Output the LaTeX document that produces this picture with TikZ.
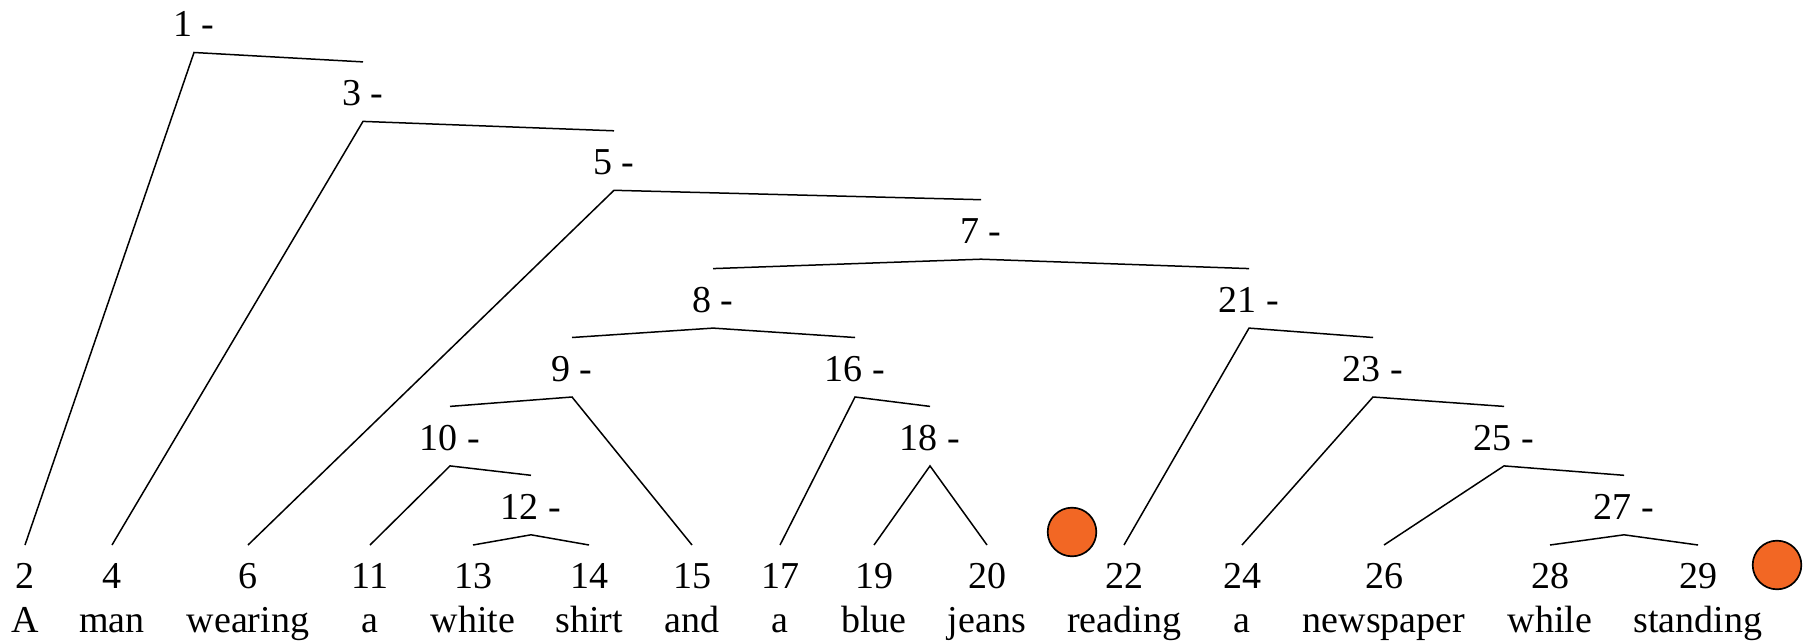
\documentclass[tikz,border=0pt]{standalone}
\usepackage{fontspec}
\setmainfont{Liberation Serif}
\usepackage{tikz}

\definecolor{dotorange}{RGB}{242,103,36}

\begin{document}
\begin{tikzpicture}[
      x=0.3pt, y=-0.3pt,
      every node/.style={font=\fontsize{11.4}{13}\selectfont, inner sep=0pt},
      headtext/.style={anchor=base},
      numtext/.style={anchor=base},
      wordtext/.style={anchor=base},
      branch/.style={draw=black, line width=0.45pt},
      orangedot/.style={circle, fill=dotorange, draw=black, line width=0.5pt, minimum size=14.6pt}
    ]
    \useasboundingbox (0,0) rectangle (1812,643);

    % Leaves: number, word and the top point of the branch
    \foreach \n/\x/\w in {2/25/A, 4/112/man, 6/248/wearing, 11/370/a, 13/473/white,
        14/589/shirt, 15/692/and, 17/780/a, 19/874/blue, 20/987/jeans, 22/1124/reading,
        24/1242/a, 26/1384/newspaper, 28/1550/while, 29/1698/standing} {
      \node[numtext] (n\n) at (\x,588) {\n};
      \node[wordtext] (w\n) at (\x,632) {\w};
      \coordinate (t\n) at (\x,545);
    }

    % Inner heads: label, apex and top point, one row per level
    \foreach \n/\x/\lv in {1/194/0, 3/363/1, 5/614/2, 7/981/3, 8/713/4, 21/1249/4,
        9/572/5, 16/855/5, 23/1373/5, 10/450/6, 18/930/6, 25/1504/6, 12/531/7, 27/1624/7} {
      \pgfmathsetmacro\yb{37+68.9*\lv}
      \node[headtext] (h\n) at (\x,\yb) {\n\ -};
      \coordinate (a\n) at (\x,{\yb+15.5});
      \coordinate (t\n) at (\x,{\yb-44});
    }

    % Branches from each head to its two children
    \foreach \p/\l/\r in {1/2/3, 3/4/5, 5/6/7, 7/8/21, 8/9/16, 9/10/15, 10/11/12,
        12/13/14, 16/17/18, 18/19/20, 21/22/23, 23/24/25, 25/26/27, 27/28/29} {
      \draw[branch] (t\l) -- (a\p) -- (t\r);
    }

    % Orange markers
    \node[orangedot] (m1) at (1072,532) {};
    \node[orangedot] (m2) at (1777,565) {};
  \end{tikzpicture}
\end{document}
